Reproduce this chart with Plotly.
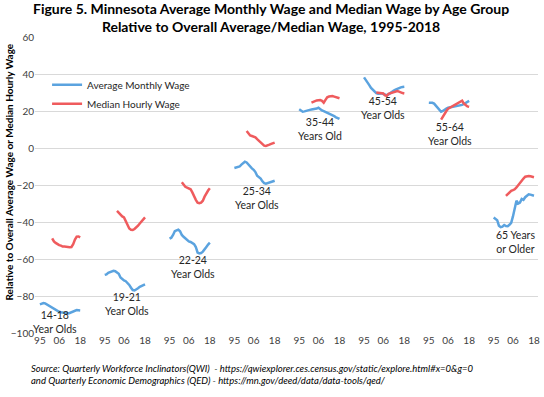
import plotly.graph_objects as go

# ---------------- data ----------------
years_avg = list(range(1995, 2019))   # Average Monthly Wage (QWI)
years_med = list(range(2002, 2019))   # Median Hourly Wage (QED)

age_groups = ["14-18<br>Year Olds", "19-21<br>Year Olds", "22-24<br>Year Olds",
              "25-34<br>Year Olds", "35-44<br>Years Old", "45-54<br>Year Olds",
              "55-64<br>Year Olds", "65 Years<br>or Older"]

avg_14_18 = [-84.5, -84.0, -83.8, -84.0, -84.6, -85.2, -85.8, -86.4, -87.0, -87.5, -88.0, -88.5,
             -88.8, -89.0, -89.2, -89.3, -89.4, -89.2, -88.7, -88.2, -87.8, -87.6, -87.7, -87.8]
avg_19_21 = [-68.6, -68.3, -67.5, -67.0, -66.5, -66.4, -66.6, -67.2, -68.0, -70.0, -71.0, -71.6,
             -72.0, -72.8, -74.0, -75.5, -76.8, -77.0, -76.5, -75.8, -75.0, -74.5, -73.8, -73.7]
avg_22_24 = [-49.0, -48.5, -47.0, -45.0, -44.5, -44.2, -45.0, -47.0, -48.0, -49.0, -50.0, -50.5,
             -50.8, -51.2, -52.0, -53.5, -56.5, -57.0, -56.8, -56.0, -55.0, -53.5, -52.2, -51.2]
avg_25_34 = [-10.8, -10.5, -10.5, -10.0, -9.0, -8.0, -7.4, -7.8, -9.0, -10.0, -11.0, -11.8,
             -13.0, -15.0, -15.8, -16.5, -18.0, -19.0, -19.3, -19.0, -18.8, -18.3, -18.0, -17.7]
avg_35_44 = [20.9, 20.0, 19.6, 19.8, 20.2, 20.5, 20.6, 20.8, 20.9, 21.0, 21.3, 21.8,
             20.8, 20.3, 19.9, 19.5, 19.1, 18.7, 18.2, 17.8, 17.2, 16.6, 16.1, 15.7]
avg_45_54 = [38.2, 37.0, 35.6, 34.0, 32.5, 31.4, 30.5, 29.6, 29.3, 29.5, 29.5, 29.2,
             28.7, 28.5, 29.0, 29.8, 30.4, 31.0, 31.5, 32.0, 32.3, 32.8, 33.0, 33.1]
avg_55_64 = [24.5, 24.6, 24.4, 24.0, 23.0, 22.0, 20.5, 19.6, 20.0, 20.8, 21.3, 21.8,
             22.0, 22.2, 22.2, 22.3, 22.5, 22.8, 23.0, 23.3, 23.8, 24.5, 25.0, 25.5]
avg_65_up = [-37.6, -38.2, -39.0, -42.0, -42.8, -42.5, -41.6, -42.2, -42.3, -41.5, -40.5, -37.0,
             -33.0, -28.5, -30.0, -29.5, -27.5, -28.0, -26.6, -26.0, -25.0, -25.2, -25.3, -25.8]

med_14_18 = [-48.8, -50.5, -51.3, -52.0, -52.5, -52.8, -53.3, -53.3, -53.5, -53.7, -53.6, -53.5,
             -52.0, -49.5, -47.9, -47.8, -48.3]
med_19_21 = [-34.0, -35.0, -36.5, -37.0, -37.5, -39.5, -42.0, -43.5, -44.2, -44.3, -43.8, -43.0,
             -42.0, -40.8, -39.5, -38.2, -37.5]
med_22_24 = [-18.5, -19.8, -21.0, -21.4, -21.8, -22.3, -24.0, -26.3, -28.0, -29.5, -29.8, -29.5,
             -28.5, -26.3, -24.5, -23.0, -21.8]
med_25_34 = [9.2, 8.0, 6.8, 6.5, 6.2, 5.8, 4.8, 3.8, 2.9, 2.0, 1.3, 1.1, 1.3, 1.8, 2.2, 2.6, 2.9]
med_35_44 = [24.5, 25.0, 25.5, 25.7, 25.8, 25.9, 25.5, 24.5, 26.0, 27.4, 27.8, 28.0,
             28.1, 27.8, 27.4, 27.1, 26.9]
med_45_54 = [30.0, 29.8, 29.6, 29.5, 29.5, 28.5, 28.2, 29.3, 29.6, 29.7, 30.2, 30.5,
             30.8, 30.5, 30.0, 29.7, 29.5]
med_55_64 = [15.3, 17.0, 18.7, 20.0, 21.2, 21.8, 22.3, 22.6, 23.2, 23.8, 24.5, 25.3,
             25.6, 24.0, 23.0, 22.5, 22.3]
med_65_up = [-25.9, -24.8, -23.8, -23.2, -22.8, -22.3, -21.3, -20.0, -19.0, -18.0, -16.5, -15.5,
             -15.2, -15.1, -15.3, -15.5, -15.8]

avg_series = [avg_14_18, avg_19_21, avg_22_24, avg_25_34, avg_35_44, avg_45_54, avg_55_64, avg_65_up]
med_series = [med_14_18, med_19_21, med_22_24, med_25_34, med_35_44, med_45_54, med_55_64, med_65_up]

# label anchor (year within group, value) for each age-group caption
label_year = [2003.5, 2007.9, 2008.5, 2007.8, 2006.6, 2005.7, 2007.0, 2007.3]
label_value = [-94.0, -84.3, -64.3, -27.0, 10.5, 21.6, 7.7, -50.8]

tick_years = [1995, 2006, 2018]
tick_text = ["95", "06", "18"]

# ---------------- layout helpers ----------------
GAP = 37  # x-units between starts of consecutive age-group blocks
BLUE = "#5BA3DF"
RED = "#EF5B5D"
FONT = "Lato"


def build(series, years):
    xs, ys = [], []
    for g, vals in enumerate(series):
        xs += [g * GAP + (y - 1995) for y in years] + [None]
        ys += list(vals) + [None]
    return xs, ys


fig = go.Figure()
xa, ya = build(avg_series, years_avg)
xm, ym = build(med_series, years_med)
fig.add_trace(go.Scatter(x=xa, y=ya, mode="lines", name="Average Monthly Wage",
                         line=dict(color=BLUE, width=2.5), connectgaps=False))
fig.add_trace(go.Scatter(x=xm, y=ym, mode="lines", name="Median Hourly Wage",
                         line=dict(color=RED, width=2.5), connectgaps=False))

tickvals, ticktext = [], []
for g in range(len(age_groups)):
    for ty, tt in zip(tick_years, tick_text):
        tickvals.append(g * GAP + (ty - 1995))
        ticktext.append(tt)

annotations = []
for g, (lab, ly, lv) in enumerate(zip(age_groups, label_year, label_value)):
    annotations.append(dict(x=g * GAP + (ly - 1995), y=lv, xref="x", yref="y", text=lab,
                            showarrow=False, font=dict(family=FONT, size=10.5, color="#262626"),
                            xanchor="center", yanchor="middle", align="center"))

annotations.append(dict(xref="paper", yref="paper", x=(272 - 35) / 505,
                        y=(333 + 2) / 296, xanchor="center", yanchor="top", align="center", showarrow=False,
                        text="<b>Figure 5. Minnesota Average Monthly Wage and Median Wage by Age Group<br>"
                             "Relative to Overall Average/Median Wage, 1995-2018</b>",
                        font=dict(family=FONT, size=14, color="#000000")))
annotations.append(dict(xref="paper", yref="paper", x=-0.052, y=0.545, textangle=-90,
                        text="<b>Relative to Overall Average Wage or Median Hourly Wage</b>",
                        showarrow=False, font=dict(family=FONT, size=10, color="#000000"),
                        xanchor="center", yanchor="middle"))
annotations.append(dict(xref="paper", yref="paper", x=-0.012, y=-0.095, xanchor="left", yanchor="top",
                        align="left", showarrow=False,
                        text="<i>Source: Quarterly Workforce Inclinators(QWI)  - https://qwiexplorer.ces.census.gov/static/explore.html#x=0&g=0"
                             "<br>and Quarterly Economic Demographics (QED) - https://mn.gov/deed/data/data-tools/qed/</i>",
                        font=dict(family=FONT, size=9.5, color="#000000")))

fig.update_layout(
    width=544, height=397,
    margin=dict(l=35, r=4, t=37, b=64),
    paper_bgcolor="white", plot_bgcolor="white",
    showlegend=True,
    legend=dict(x=0.024, y=0.888, xanchor="left", yanchor="top", bgcolor="rgba(0,0,0,0)",
                font=dict(family=FONT, size=10, color="#262626"), itemwidth=30,
                tracegroupgap=0),
    annotations=annotations,
    xaxis=dict(range=[-2.8, 7 * GAP + 23 + 2.3], tickmode="array", tickvals=tickvals, ticktext=ticktext,
               showgrid=False, zeroline=False, showline=False, ticks="",
               tickfont=dict(family=FONT, size=10, color="#404040"), fixedrange=True),
    yaxis=dict(range=[-100, 60], dtick=20, tick0=0, showgrid=True, gridcolor="#D9D9D9", gridwidth=1,
               zeroline=False, showline=False, ticks="",
               tickfont=dict(family=FONT, size=10, color="#404040"), fixedrange=True),
)

fig.write_html("out.html", config={"displayModeBar": False},
               post_script="document.body.style.margin='0';document.body.style.overflow='hidden';")
